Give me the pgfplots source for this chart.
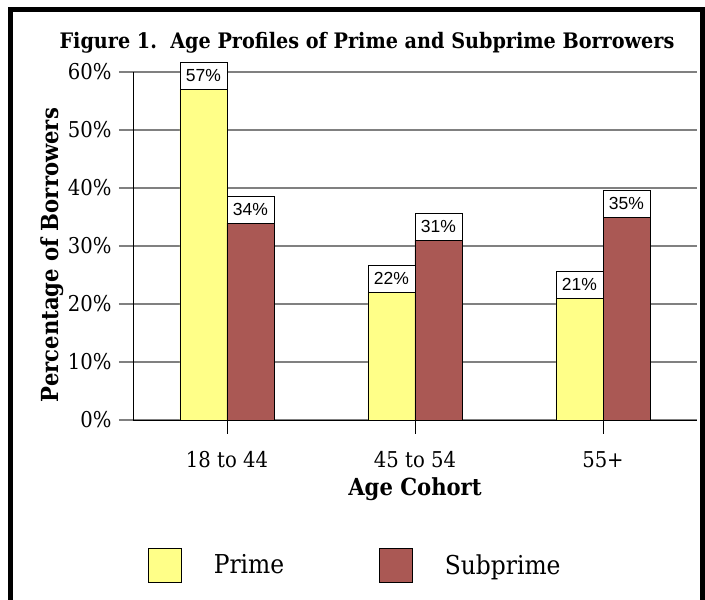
\documentclass[border=0pt]{standalone}
\usepackage{pgfplots}
\pgfplotsset{compat=1.18}
\usepackage{fontspec}
\setmainfont{DejaVu Serif Condensed}
\newfontfamily\arialfont{Liberation Sans}
\definecolor{primecol}{RGB}{255,255,136}
\definecolor{subcol}{RGB}{170,88,84}
\definecolor{gridgray}{RGB}{128,128,128}
\begin{document}
\begin{tikzpicture}[x=1pt,y=1pt]
\useasboundingbox (0,0) rectangle (705,600);
\draw[line width=5pt,miter limit=10] (10.5,0) -- (10.5,590.5) -- (702.5,590.5) -- (702.5,0);
\node[font=\fontsize{21.35}{24}\selectfont\bfseries] at (367,557) {Figure 1.\ \ Age Profiles of Prime and Subprime Borrowers};
\begin{axis}[
  at={(133pt,180pt)}, anchor=south west,
  scale only axis, width=564pt, height=348pt,
  xmin=-0.5, xmax=2.5, ymin=0, ymax=60,
  ybar=0pt, bar width=47pt,
  axis x line*=bottom, axis y line*=left,
  axis line style={-, black, line width=0.8pt},
  xtick=data, xticklabels={18 to 44, 45 to 54, 55+},
  ytick={0,10,...,60},
  yticklabel={\pgfmathprintnumber{\tick}\%},
  tick align=outside, major tick length=14pt,
  x tick style={black, line width=0.8pt},
  y tick style={gridgray, line width=1.2pt},
  ymajorgrids, major grid style={gridgray, line width=1.2pt},
  tick label style={font=\fontsize{21.8}{26}\selectfont},
  xticklabel style={yshift=-14pt},
  yticklabel style={xshift=-4pt},
  /pgf/number format/assume math mode=true,
  xlabel={\bfseries Age Cohort}, ylabel={\bfseries Percentage of Borrowers},
  label style={font=\fontsize{23.5}{28}\selectfont},
  xlabel style={at={(axis description cs:0.5,-0.198)}, anchor=center},
  ylabel style={at={(axis description cs:-0.143,0.474)}, anchor=center},
  point meta=y,
  nodes near coords={\pgfmathprintnumber[fixed,precision=0]{\pgfplotspointmeta}\%},
  every node near coord/.append style={draw=black, fill=white, line width=0.6pt, inner sep=0pt, outer sep=0pt,
     minimum width=47pt, minimum height=27pt, anchor=south, font=\arialfont\fontsize{17.5}{20}\selectfont},
  legend columns=2,
  legend style={draw=none, fill=none, at={(0.0213,-0.417)}, anchor=west, font=\fontsize{26}{30}\selectfont,
     /tikz/every even column/.append style={column sep=93pt}},
  legend image code/.code={\draw[#1] (0pt,-17pt) rectangle (33pt,17pt);},
  legend cell align=left,
]
\addplot[fill=primecol, draw=black, line width=0.6pt] coordinates {(0,57) (1,22) (2,21)};
\addplot[fill=subcol, draw=black, line width=0.6pt] coordinates {(0,34) (1,31) (2,35)};
\legend{\hspace{30pt}Prime, \hspace{30pt}Subprime}
\end{axis}
\end{tikzpicture}
\end{document}
